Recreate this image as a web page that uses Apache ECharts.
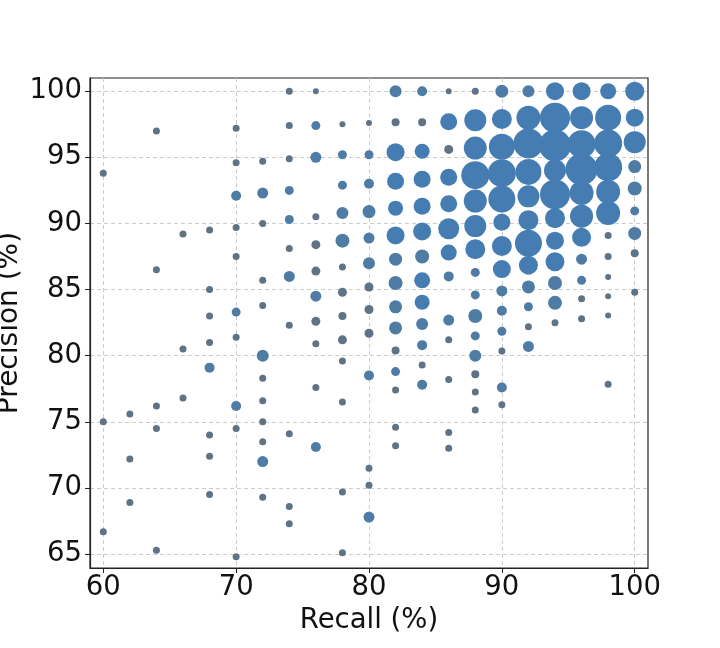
<!DOCTYPE html>
<html><head><meta charset="utf-8">
<style>html,body{margin:0;padding:0;background:#fff}#c{width:720px;height:648px}</style>
<script src="https://cdn.jsdelivr.net/npm/echarts@6/dist/echarts.min.js"></script>
</head><body><div id="c"></div>
<script>
const xTicks=[60,70,80,90,100];
const yTicks=[65,70,75,80,85,90,95,100];
const r60=[93.8,75,66.7];            const s60=[6,6,6];
const r62=[75.6,72.2,68.9];          const s62=[6,6,6];
const r64=[97,86.5,76.2,74.5,65.3];  const s64=[6,6,6,6,6];
const r66=[89.2,80.5,76.8];          const s66=[6,6,6];
const r68=[89.5,85,83,81,79.1,74,72.4,69.5]; const s68=[6,6,6,6,10,6,6,6];
const r70=[97.2,94.6,92.1,89.7,87.5,83.3,81.4,76.2,74.5,64.8]; const s70=[6,6,10,6,6,9,6,10,6,6];
const r72=[94.7,92.3,90,85.7,83.8,80,78.3,76.6,75,73.5,72,69.3]; const s72=[6,11,6,6,6,12,6,6,6,6,11,6];
const r74=[100,97.4,94.9,92.5,90.3,88.1,86,82.3,74.1,68.6,67.3]; const s74=[6,6,6,9,9,6,11,6,6,6,6];
const r76=[100,97.4,95,90.5,88.4,86.4,84.5,82.6,80.9,77.6,73.1]; const s76=[5,9,11,6,8,8,11,8,6,6,10];
const r78=[97.5,95.2,92.9,90.8,88.7,86.7,84.8,83,81.2,79.6,76.5,69.7,65.1]; const s78=[5,9,9,12,14,6,8,7,8,6,6,6,6];
const r80=[97.6,95.2,93,90.9,88.9,87,85.2,83.5,81.7,78.5,71.5,70.2,67.8]; const s80=[5,9,10,13,11,12,8,8,8,10,6,6,11];
const r82=[100,97.66,95.39,93.2,91.16,89.1,87.3,85.5,83.7,82.1,80.4,78.8,77.4,74.6,73.2]; const s82=[12,7,18,17,15,18,13,14,13,13,7,9,6,6,6];
const r84=[100,97.66,95.46,93.35,91.3,89.4,87.5,85.7,84.05,82.4,80.8,79.3,77.8]; const s84=[10,7,15,17,17,18,14,16,15,12,10,6,10];
const r86=[100,97.7,95.6,93.5,91.5,89.6,87.8,86,82.7,81.2,78.2,74.2,73]; const s86=[5,17,8,17,17,21,16,10,11,6,6,6,6];
const r88=[100,97.8,95.7,93.65,91.7,89.8,88.05,86.3,84.6,83,81.5,80,78.6,77.25,75.9]; const s88=[6,22,23,28,23,22,20,9,9,14,9,12,7,6,6];
const r90=[100,97.9,95.8,93.8,91.85,90.1,88.3,86.55,84.9,83.4,81.85,80.35,77.6,76.3]; const s90=[13,20,26,28,27,17,20,18,11,10,9,6,10,6];
const r92=[100,98,96.05,93.9,92.05,90.25,88.5,86.85,85.2,83.7,82.2,80.7]; const s92=[12,24,30,26,22,20,27,19,13,9,6,11];
const r94=[100,98,95.9,94,92.2,90.4,88.7,87.1,85.5,84,82.5]; const s94=[18,30,32,22,30,20,18,19,14,14,6];
const r96=[100,98,96,94.1,92.3,90.55,88.95,87.3,85.7,84.3,82.8]; const s96=[18,23,28,32,24,23,19,11,9,6,6];
const r98=[100,98,96.05,94.25,92.4,90.8,89.1,87.5,85.95,84.5,83.05,77.85]; const s98=[16,26,28,28,24,24,6,6,5,5,5,6];
const r100=[100,98,96.15,94.3,92.65,90.95,89.25,87.75,84.8]; const s100=[19,18,22,13,14,9,13,7,6];

const columns=[[60,r60,s60],[62,r62,s62],[64,r64,s64],[66,r66,s66],[68,r68,s68],[70,r70,s70],[72,r72,s72],[74,r74,s74],[76,r76,s76],[78,r78,s78],[80,r80,s80],[82,r82,s82],[84,r84,s84],[86,r86,s86],[88,r88,s88],[90,r90,s90],[92,r92,s92],[94,r94,s94],[96,r96,s96],[98,r98,s98],[100,r100,s100]];
const data=[];
columns.forEach(([x,ys,ss])=>ys.forEach((y,i)=>data.push([x,y,ss[i]])));

const font='DejaVu Sans';
const gridLine={show:true,lineStyle:{color:'#cccccc',type:[4,3],width:1}};
const chart=echarts.init(document.getElementById('c'),null,{renderer:'canvas'});
chart.setOption({
  animation:false,
  backgroundColor:'#fff',
  grid:{left:90,top:78,width:558,height:490,show:false,outerBoundsMode:'none',containLabel:false},
  xAxis:{type:'value',min:59,max:101,containShape:false,name:'Recall (%)',nameLocation:'middle',nameGap:38,
    nameTextStyle:{fontFamily:font,fontSize:27.5,color:'#111'},
    axisLine:{show:true,onZero:false,lineStyle:{color:'#222',width:1.2}},
    axisTick:{show:true,length:5,customValues:xTicks,lineStyle:{color:'#222'}},
    axisLabel:{customValues:xTicks,fontFamily:font,fontSize:27.5,color:'#111',margin:6},
    splitLine:gridLine},
  yAxis:{type:'value',min:63.95,max:101,containShape:false,name:'Precision (%)',nameLocation:'middle',nameGap:66,nameMoveOverlap:false,
    nameTextStyle:{fontFamily:font,fontSize:28,color:'#111'},
    axisLine:{show:true,onZero:false,lineStyle:{color:'#222',width:1.2}},
    axisTick:{show:true,length:5,customValues:yTicks,lineStyle:{color:'#222'}},
    axisLabel:{customValues:yTicks,fontFamily:font,fontSize:27.5,color:'#111',margin:8},
    splitLine:gridLine},
  series:[{type:'scatter',data:data,
    symbolSize:d=>d[2]<9?d[2]+1:d[2],
    itemStyle:{color:p=>p.data[2]<9?'#5f7387':(p.data[2]<15?'#4f7ca5':'#457db2'),opacity:1}}],
  graphic:[{type:'rect',silent:true,z:-1,shape:{x:90,y:78,width:558,height:490},style:{fill:'none',stroke:'#222',lineWidth:1.2}}]
});
</script></body></html>
